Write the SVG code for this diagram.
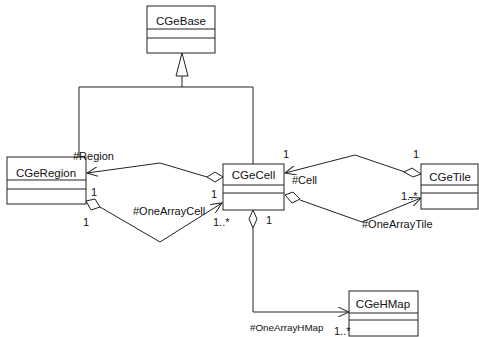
<svg xmlns="http://www.w3.org/2000/svg" width="479" height="337" viewBox="0 0 479 337">
<defs>
<style>
.box{fill:#fff;stroke:#222;stroke-width:1}
.div{stroke:#222;stroke-width:1}
.ln{fill:none;stroke:#222;stroke-width:1}
.t{font-family:"Liberation Sans",Arial,sans-serif;font-size:11px;fill:#111}
.name{font-family:"Liberation Sans",Arial,sans-serif;font-size:11.5px;fill:#111;text-anchor:middle}
.dia{fill:#fff;stroke:#222;stroke-width:1}
</style>
<marker id="open" markerWidth="12" markerHeight="10" refX="11" refY="5" orient="auto" markerUnits="userSpaceOnUse">
<path d="M0,0 L11,5 L0,10" fill="none" stroke="#222" stroke-width="1"/>
</marker>
</defs>
<rect width="479" height="337" fill="#fff"/>
<g id="connectors">
<!-- inheritance -->
<path class="ln" d="M79,157 V87 H253 V164"/>
<path class="ln" d="M182,87 V76"/>
<polygon points="182,53 176,76 188,76" fill="#fff" stroke="#222"/>
<!-- #Region -->
<path class="ln" d="M207,177 L160,163 L87,173" marker-end="url(#open)"/>
<polygon class="dia" points="223,177 215,172 207,177 215,182"/>
<!-- #OneArrayCell -->
<path class="ln" d="M100,207 L160,242 L222,203" marker-end="url(#open)"/>
<polygon class="dia" points="86,201 95,199 100,207 91,210"/>
<!-- #Cell -->
<path class="ln" d="M405,172 L355,155 L285,173" marker-end="url(#open)"/>
<polygon class="dia" points="421,174 412,168 404,172 413,177"/>
<!-- #OneArrayTile -->
<path class="ln" d="M300,200 L362,222 L421,198" marker-end="url(#open)"/>
<polygon class="dia" points="285,195 293,192 300,199 292,203"/>
<!-- #OneArrayHMap -->
<path class="ln" d="M253,228 V312 H349" marker-end="url(#open)"/>
<polygon class="dia" points="253,210 257,219 253,228 249,219"/>
</g>
<g id="CGeBase">
<rect class="box" x="147" y="6" width="68" height="47"/>
<line class="div" x1="147" y1="29" x2="215" y2="29"/>
<line class="div" x1="147" y1="38" x2="215" y2="38"/>
<text class="name" x="181" y="25">CGeBase</text>
</g>
<g id="CGeRegion">
<rect class="box" x="7" y="157" width="79" height="47"/>
<line class="div" x1="7" y1="180" x2="86" y2="180"/>
<line class="div" x1="7" y1="189" x2="86" y2="189"/>
<text class="name" x="46" y="177">CGeRegion</text>
</g>
<g id="CGeCell">
<rect class="box" x="223" y="164" width="61" height="46"/>
<line class="div" x1="223" y1="185" x2="284" y2="185"/>
<line class="div" x1="223" y1="193" x2="284" y2="193"/>
<text class="name" x="253.5" y="179">CGeCell</text>
</g>
<g id="CGeTile">
<rect class="box" x="421" y="164" width="57" height="45"/>
<line class="div" x1="421" y1="185" x2="478" y2="185"/>
<line class="div" x1="421" y1="193" x2="478" y2="193"/>
<text class="name" x="450" y="181">CGeTile</text>
</g>
<g id="CGeHMap">
<rect class="box" x="349" y="291" width="69" height="45"/>
<line class="div" x1="349" y1="313" x2="418" y2="313"/>
<line class="div" x1="349" y1="320" x2="418" y2="320"/>
<text class="name" x="383" y="308">CGeHMap</text>
</g>
<g id="labels">
<text class="t" x="73" y="160">#Region</text>
<text class="t" x="91" y="196">1</text>
<text class="t" x="83" y="226">1</text>
<text class="t" x="133" y="215">#OneArrayCell</text>
<text class="t" x="211" y="198">1</text>
<text class="t" x="213" y="226">1..*</text>
<text class="t" x="266" y="224">1</text>
<text class="t" x="283" y="158">1</text>
<text class="t" x="292" y="184">#Cell</text>
<text class="t" x="413" y="158">1</text>
<text class="t" x="401" y="200">1..*</text>
<text class="t" x="362" y="228">#OneArrayTile</text>
<text class="t" x="250" y="331" style="font-size:9.8px">#OneArrayHMap</text>
<text class="t" x="334" y="335">1..*</text>
</g>
</svg>
